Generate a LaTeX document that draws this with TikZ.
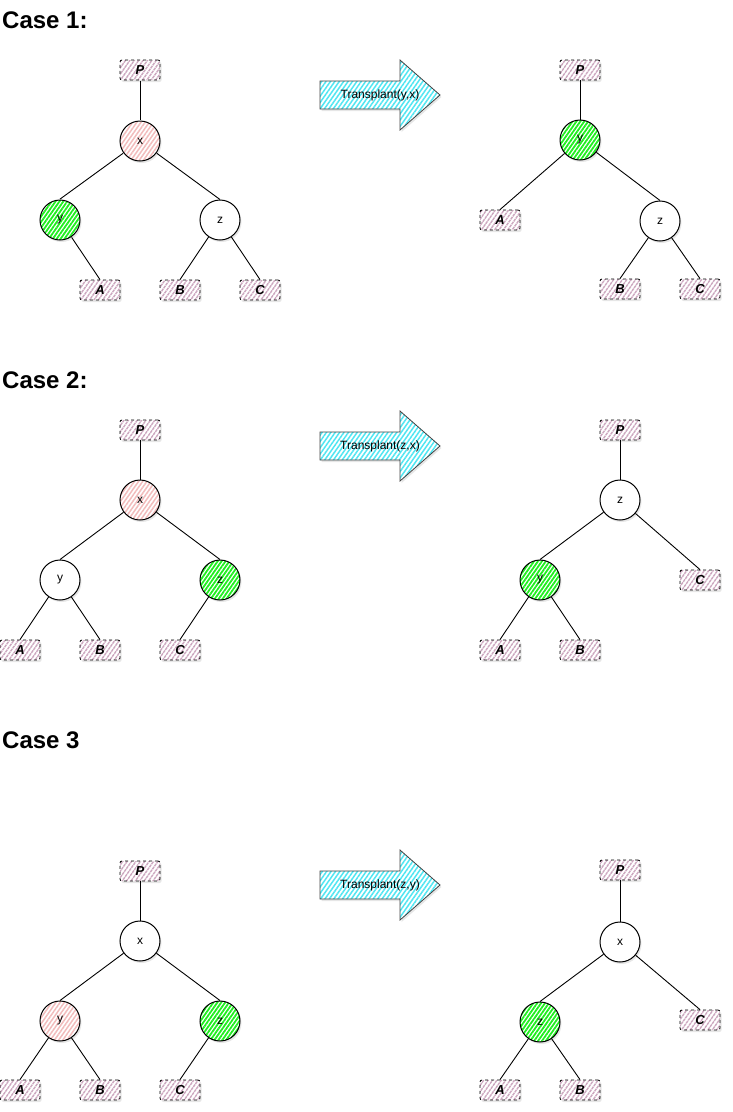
\documentclass[tikz,border=0pt]{standalone}
\usepackage{fontspec}
\setmainfont{Liberation Sans}
\usetikzlibrary{patterns.meta,shadows}
\definecolor{pinkh}{RGB}{242,188,188}
\definecolor{greenh}{RGB}{30,238,30}
\definecolor{mauveh}{RGB}{205,168,192}
\definecolor{cyanh}{RGB}{80,230,242}
\tikzset{
  shad/.style={drop shadow={opacity=0.2, shadow xshift=1.5pt, shadow yshift=-2pt}},
  circ/.style={circle, draw, line width=1pt, minimum size=40pt, inner sep=0pt, shad,
    font=\fontsize{12}{14}\selectfont},
  whitec/.style={circ, fill=white},
  pinkc/.style={circ, preaction={fill=white}, pattern={Lines[angle=55,distance=3.4pt,line width=1.5pt]}, pattern color=pinkh},
  greenc/.style={circ, preaction={fill=white}, pattern={Lines[angle=55,distance=3.2pt,line width=1.8pt]}, pattern color=greenh},
  leaf/.style={rectangle, draw, dashed, line width=0.8pt, rounded corners=2pt, minimum width=40pt, minimum height=20pt,
    inner sep=0pt, shad, preaction={fill=white}, pattern={Lines[angle=55,distance=3.6pt,line width=1.4pt]}, pattern color=mauveh,
    font=\bfseries\itshape\fontsize{13}{15}\selectfont},
  edge/.style={line width=0.9pt},
  bigarrow/.style={draw=black!75, line width=0.8pt, shad, preaction={fill=white}, pattern={Lines[angle=55,distance=3.6pt,line width=1.5pt]}, pattern color=cyanh},
  title/.style={anchor=base west, inner sep=0pt, font=\bfseries\fontsize{24}{28}\selectfont},
  atext/.style={inner sep=0pt, font=\fontsize{12}{14}\selectfont}
}
\begin{document}
\begin{tikzpicture}[x=1pt,y=-1pt]
\useasboundingbox (0,0) rectangle (732,1112);

% ---------- Case 1 ----------
\node[title] (t1) at (2,28.5) {Case 1:};
\node[leaf] (p1) at (140,70) {P};
\node[pinkc] (x1) at (140,141) {x};
\node[greenc] (y1) at (60,220) {y};
\node[whitec] (z1) at (220,220) {z};
\node[leaf] (a1) at (100,290) {A};
\node[leaf] (b1) at (180,290) {B};
\node[leaf] (c1) at (260,290) {C};
\draw[edge] (p1.south) -- (x1.north);
\draw[edge] (x1) -- (y1.north);
\draw[edge] (x1) -- (z1.north);
\draw[edge] (y1) -- (a1.north);
\draw[edge] (z1) -- (b1.north);
\draw[edge] (z1) -- (c1.north);

\draw[bigarrow] (320,81) -- (400,81) -- (400,60) -- (440,95) -- (400,130) -- (400,109) -- (320,109) -- cycle;
\node[atext] (ar1) at (380,95) {Transplant(y,x)};

\node[leaf] (p1r) at (580,70) {P};
\node[greenc] (y1r) at (580,140) {y};
\node[leaf] (a1r) at (500,220) {A};
\node[whitec] (z1r) at (660,221) {z};
\node[leaf] (b1r) at (620,289) {B};
\node[leaf] (c1r) at (700,289) {C};
\draw[edge] (p1r.south) -- (y1r.north);
\draw[edge] (y1r) -- (a1r.north);
\draw[edge] (y1r) -- (z1r.north);
\draw[edge] (z1r) -- (b1r.north);
\draw[edge] (z1r) -- (c1r.north);

% ---------- Case 2 ----------
\node[title] (t2) at (2,388.5) {Case 2:};
\node[leaf] (p2) at (140,430) {P};
\node[pinkc] (x2) at (140,500) {x};
\node[whitec] (y2) at (60,580) {y};
\node[greenc] (z2) at (220,580) {z};
\node[leaf] (a2) at (20,650) {A};
\node[leaf] (b2) at (100,650) {B};
\node[leaf] (c2) at (180,650) {C};
\draw[edge] (p2.south) -- (x2.north);
\draw[edge] (x2) -- (y2.north);
\draw[edge] (x2) -- (z2.north);
\draw[edge] (y2) -- (a2.north);
\draw[edge] (y2) -- (b2.north);
\draw[edge] (z2) -- (c2.north);

\draw[bigarrow] (320,432) -- (400,432) -- (400,411) -- (440,446) -- (400,481) -- (400,460) -- (320,460) -- cycle;
\node[atext] (ar2) at (380,446) {Transplant(z,x)};

\node[leaf] (p2r) at (620,430) {P};
\node[whitec] (z2r) at (620,500) {z};
\node[greenc] (y2r) at (540,580) {y};
\node[leaf] (c2r) at (700,580) {C};
\node[leaf] (a2r) at (500,650) {A};
\node[leaf] (b2r) at (580,650) {B};
\draw[edge] (p2r.south) -- (z2r.north);
\draw[edge] (z2r) -- (y2r.north);
\draw[edge] (z2r) -- (c2r.north);
\draw[edge] (y2r) -- (a2r.north);
\draw[edge] (y2r) -- (b2r.north);

% ---------- Case 3 ----------
\node[title] (t3) at (2,748.5) {Case 3};
\node[leaf] (p3) at (140,871) {P};
\node[whitec] (x3) at (140,941) {x};
\node[pinkc] (y3) at (60,1021) {y};
\node[greenc] (z3) at (220,1021) {z};
\node[leaf] (a3) at (20,1090) {A};
\node[leaf] (b3) at (100,1090) {B};
\node[leaf] (c3) at (180,1090) {C};
\draw[edge] (p3.south) -- (x3.north);
\draw[edge] (x3) -- (y3.north);
\draw[edge] (x3) -- (z3.north);
\draw[edge] (y3) -- (a3.north);
\draw[edge] (y3) -- (b3.north);
\draw[edge] (z3) -- (c3.north);

\draw[bigarrow] (320,871) -- (400,871) -- (400,850) -- (440,885) -- (400,920) -- (400,899) -- (320,899) -- cycle;
\node[atext] (ar3) at (380,885) {Transplant(z,y)};

\node[leaf] (p3r) at (620,870) {P};
\node[whitec] (x3r) at (620,942) {x};
\node[greenc] (z3r) at (540,1022) {z};
\node[leaf] (c3r) at (700,1020) {C};
\node[leaf] (a3r) at (500,1090) {A};
\node[leaf] (b3r) at (580,1090) {B};
\draw[edge] (p3r.south) -- (x3r.north);
\draw[edge] (x3r) -- (z3r.north);
\draw[edge] (x3r) -- (c3r.north);
\draw[edge] (z3r) -- (a3r.north);
\draw[edge] (z3r) -- (b3r.north);
\end{tikzpicture}
\end{document}
